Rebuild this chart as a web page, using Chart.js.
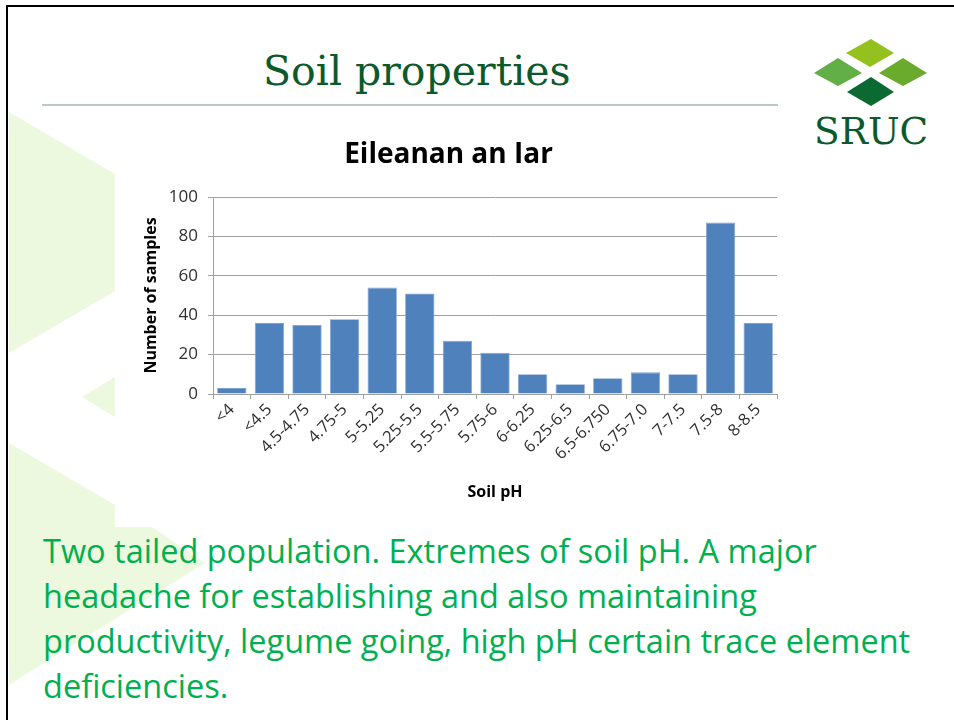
<!DOCTYPE html>
<html><head><meta charset="utf-8">
<script src="https://cdn.jsdelivr.net/npm/chart.js@4.4.1/dist/chart.umd.min.js"></script>
<style>
html,body{margin:0;padding:0;background:#fff;}
#slide{position:relative;width:954px;height:720px;overflow:hidden;background:#fff;}
#bg{position:absolute;left:0;top:0;}
.title{position:absolute;left:263px;top:51px;font-family:"DejaVu Serif";font-size:41px;line-height:41px;color:#0c5a2c;white-space:nowrap;}
.logo{position:absolute;left:814px;top:113px;font-family:"DejaVu Serif";font-size:37.5px;line-height:37.5px;color:#0c5a2c;white-space:nowrap;}
#chartbox{position:absolute;left:120px;top:128px;width:665px;height:390px;}
.body{position:absolute;left:43px;top:528px;font-family:"Open Sans";font-size:32.5px;line-height:45px;color:#00b050;white-space:pre;}
</style></head>
<body>
<div id="slide">
<svg id="bg" width="954" height="720">
 <polygon points="9,112 115,174 115,291 9,353" fill="#ecf9de"/>
 <polygon points="82,397 115,377 115,417" fill="#ecf9de"/>
 <polygon points="9,443 115,505 115,527 152,527 205,563 9,685" fill="#ecf9de"/>
 <line x1="42" y1="105" x2="778" y2="105" stroke="#b9c9c5" stroke-width="2"/>
 <line x1="6" y1="6" x2="954" y2="6" stroke="#000" stroke-width="2"/>
 <line x1="7" y1="6" x2="7" y2="720" stroke="#000" stroke-width="2"/>
 <polygon points="846,53 871,39 894,53 870,67" fill="#95c11f"/>
 <polygon points="814,73 838,58 862,73 838,86" fill="#62ae47"/>
 <polygon points="879,73 903,58 927,73 903,86" fill="#6aab2d"/>
 <polygon points="847,92 871,77 894,92 871,106" fill="#0b6a32"/>
</svg>
<div class="title">Soil properties</div>
<div class="logo">SRUC</div>
<div id="chartbox"><canvas id="c" width="665" height="390"></canvas></div>
<div class="body">Two tailed population. Extremes of soil pH. A major
headache for establishing and also maintaining
productivity, legume going, high pH certain trace element
deficiencies.</div>
</div>
<script>
const categories = ['<4','<4.5','4.5-4.75','4.75-5','5-5.25','5.25-5.5','5.5-5.75','5.75-6','6-6.25','6.25-6.5','6.5-6.750','6.75-7.0','7-7.5','7.5-8','8-8.5'];
const samples = [3,36,35,38,54,51,27,21,10,5,8,11,10,87,36];
const yMin = 0, yMax = 100, yStep = 20;
const chartTitle = 'Eileanan an Iar';
const xTitle = 'Soil pH';
const yTitle = 'Number of samples';

Chart.defaults.font.family = '"Open Sans"';
new Chart(document.getElementById('c'), {
  type: 'bar',
  data: {
    labels: categories,
    datasets: [{
      data: samples,
      backgroundColor: '#4f81bd',
      borderColor: '#7fa3d1',
      borderWidth: 0.8,
      barPercentage: 0.78,
      categoryPercentage: 1
    }]
  },
  options: {
    responsive: false,
    animation: false,
    layout: {padding: {left: 0, right: 8, top: 0, bottom: 0}},
    plugins: {
      legend: {display: false},
      tooltip: {enabled: false},
      title: {display: true, text: chartTitle, color: '#000',
        font: {size: 28, weight: 'bold'},
        padding: {top: 10.5, bottom: 24.9}}
    },
    scales: {
      x: {
        grid: {display: true, drawOnChartArea: false, drawTicks: true, tickLength: 5, color: '#a0a0a0', offset: true},
        border: {color: '#a0a0a0'},
        ticks: {minRotation: 45, maxRotation: 45, autoSkip: false, color: '#303030', font: {size: 16.5}, padding: 1},
        title: {display: true, text: xTitle, color: '#000', font: {size: 16, weight: 'bold'}, padding: {top: 0, bottom: 16.4}},
        afterFit(s) { s.height = 124; }
      },
      y: {
        min: yMin, max: yMax,
        ticks: {stepSize: yStep, color: '#303030', font: {size: 17}, padding: 10},
        grid: {color: '#a0a0a0', tickLength: 5},
        border: {color: '#a0a0a0'},
        title: {display: true, text: yTitle, color: '#000', font: {size: 16, weight: 'bold'}, padding: {top: 22, bottom: 0}},
        afterFit(s) { s.width = 93; }
      }
    }
  }
});
</script>
</body></html>
